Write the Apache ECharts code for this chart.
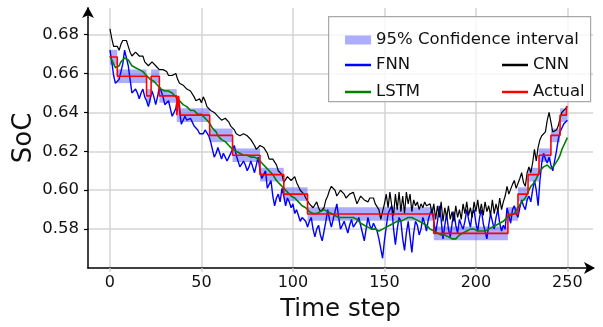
<!DOCTYPE html>
<html>
<head>
<meta charset="utf-8">
<script src="https://cdn.jsdelivr.net/npm/echarts@6/dist/echarts.min.js"></script>
<style>
html,body{margin:0;padding:0;background:#fff;}
#chart{width:603px;height:327px;}
</style>
</head>
<body>
<div id="chart"></div>
<script>
// time step axis 0..250
var cnnValues = [
0.683,0.678,0.674,0.673,0.674,0.672,0.675,0.677,0.678,0.677,
0.674,0.671,0.669,0.670,0.671,0.670,0.669,0.668,0.669,0.666,
0.665,0.664,0.665,0.666,0.666,0.664,0.663,0.662,0.663,0.662,
0.662,0.661,0.659,0.658,0.659,0.660,0.660,0.657,0.655,0.656,
0.654,0.653,0.652,0.652,0.651,0.650,0.648,0.646,0.646,0.647,
0.645,0.648,0.646,0.643,0.642,0.641,0.642,0.640,0.640,0.638,
0.638,0.636,0.635,0.637,0.637,0.635,0.633,0.632,0.631,0.629,
0.628,0.628,0.628,0.629,0.630,0.628,0.627,0.626,0.625,0.623,
0.621,0.621,0.623,0.624,0.622,0.622,0.619,0.616,0.615,0.616,
0.615,0.613,0.610,0.611,0.608,0.604,0.605,0.607,0.607,0.605,
0.606,0.607,0.604,0.602,0.600,0.599,0.598,0.596,0.595,0.593,
0.592,0.591,0.592,0.594,0.591,0.589,0.588,0.591,0.595,0.597,
0.600,0.602,0.603,0.600,0.597,0.598,0.600,0.600,0.598,0.596,
0.596,0.598,0.599,0.599,0.596,0.593,0.595,0.597,0.597,0.595,
0.594,0.594,0.596,0.597,0.596,0.593,0.592,0.590,0.585,0.589,
0.593,0.598,0.591,0.599,0.592,0.587,0.598,0.590,0.599,0.589,
0.597,0.588,0.599,0.593,0.598,0.589,0.595,0.592,0.594,0.590,
0.593,0.591,0.594,0.592,0.591,0.593,0.588,0.593,0.585,0.592,
0.586,0.594,0.584,0.591,0.586,0.592,0.585,0.589,0.584,0.592,
0.586,0.590,0.585,0.593,0.588,0.594,0.587,0.591,0.586,0.594,
0.589,0.595,0.588,0.593,0.587,0.594,0.589,0.592,0.587,0.595,
0.588,0.593,0.589,0.596,0.590,0.594,0.597,0.602,0.598,0.597,
0.603,0.605,0.601,0.600,0.606,0.609,0.604,0.602,0.609,0.612,
0.609,0.614,0.621,0.615,0.622,0.626,0.628,0.629,0.630,0.636,
0.640,0.635,0.630,0.629,0.631,0.633,0.637,0.640,0.641,0.642,0.643
];
var fnnValues = [
0.672,0.666,0.659,0.655,0.654,0.657,0.661,0.665,0.672,0.673,
0.664,0.657,0.650,0.649,0.652,0.650,0.647,0.650,0.652,0.648,
0.646,0.643,0.642,0.651,0.648,0.644,0.648,0.653,0.651,0.648,
0.644,0.643,0.646,0.642,0.638,0.640,0.642,0.648,0.641,0.634,
0.636,0.638,0.636,0.635,0.637,0.635,0.633,0.634,0.631,0.629,
0.628,0.629,0.631,0.630,0.628,0.625,0.621,0.617,0.619,0.622,
0.619,0.616,0.619,0.617,0.615,0.617,0.619,0.621,0.623,0.618,
0.615,0.612,0.611,0.615,0.613,0.610,0.612,0.615,0.612,0.609,
0.613,0.617,0.610,0.606,0.608,0.610,0.601,0.603,0.605,0.597,
0.592,0.596,0.598,0.594,0.601,0.597,0.592,0.596,0.594,0.591,
0.593,0.588,0.590,0.587,0.584,0.586,0.587,0.584,0.581,0.584,
0.586,0.580,0.576,0.580,0.582,0.577,0.574,0.579,0.584,0.590,
0.585,0.581,0.585,0.589,0.593,0.586,0.580,0.582,0.584,0.581,
0.578,0.582,0.585,0.581,0.580,0.584,0.586,0.582,0.578,0.574,
0.580,0.586,0.582,0.580,0.583,0.584,0.579,0.575,0.570,0.565,
0.574,0.581,0.588,0.590,0.592,0.580,0.572,0.580,0.586,0.584,
0.575,0.569,0.578,0.584,0.576,0.568,0.578,0.584,0.582,0.577,
0.580,0.586,0.583,0.579,0.585,0.588,0.590,0.584,0.578,0.584,
0.592,0.585,0.575,0.582,0.588,0.580,0.576,0.583,0.589,0.582,
0.578,0.585,0.582,0.580,0.584,0.590,0.585,0.581,0.588,0.590,
0.583,0.579,0.586,0.590,0.583,0.579,0.575,0.582,0.588,0.584,
0.580,0.586,0.590,0.583,0.579,0.582,0.580,0.591,0.587,0.583,
0.590,0.592,0.588,0.586,0.591,0.595,0.592,0.590,0.595,0.597,
0.594,0.600,0.605,0.600,0.592,0.605,0.614,0.619,0.616,0.614,
0.617,0.613,0.610,0.615,0.620,0.626,0.630,0.632,0.634,0.635,0.636
];
var lstmValues = [
0.669,0.668,0.665,0.663,0.663,0.664,0.666,0.667,0.668,0.668,
0.667,0.666,0.664,0.6635,0.663,0.662,0.662,0.661,0.661,0.660,
0.659,0.658,0.657,0.656,0.656,0.655,0.654,0.653,0.652,0.652,
0.651,0.651,0.651,0.650,0.650,0.649,0.648,0.647,0.646,0.646,
0.644,0.643,0.643,0.642,0.641,0.641,0.641,0.640,0.639,0.639,
0.639,0.638,0.637,0.636,0.635,0.634,0.632,0.631,0.630,0.628,
0.628,0.626,0.625,0.625,0.624,0.623,0.622,0.621,0.621,0.620,
0.619,0.619,0.618,0.618,0.618,0.618,0.618,0.617,0.617,0.617,
0.616,0.616,0.615,0.614,0.613,0.612,0.611,0.610,0.609,0.608,
0.607,0.605,0.604,0.603,0.602,0.601,0.600,0.599,0.598,0.597,
0.596,0.596,0.595,0.594,0.593,0.592,0.592,0.591,0.590,0.589,
0.589,0.588,0.588,0.588,0.589,0.589,0.590,0.590,0.589,0.589,
0.589,0.588,0.588,0.587,0.587,0.586,0.586,0.586,0.585,0.586,
0.586,0.586,0.586,0.586,0.586,0.585,0.584,0.583,0.582,0.582,
0.581,0.581,0.581,0.580,0.580,0.580,0.579,0.579,0.579,0.580,
0.580,0.581,0.582,0.582,0.583,0.583,0.583,0.584,0.584,0.584,
0.585,0.585,0.585,0.586,0.586,0.586,0.585,0.585,0.585,0.584,
0.584,0.583,0.583,0.582,0.581,0.580,0.579,0.579,0.578,0.578,
0.578,0.577,0.577,0.577,0.576,0.576,0.576,0.575,0.575,0.575,
0.576,0.577,0.577,0.578,0.579,0.579,0.580,0.580,0.580,0.580,
0.579,0.579,0.579,0.579,0.579,0.579,0.580,0.580,0.581,0.581,
0.582,0.582,0.583,0.583,0.584,0.584,0.585,0.586,0.586,0.587,
0.587,0.588,0.589,0.591,0.592,0.594,0.595,0.596,0.598,0.600,
0.602,0.603,0.604,0.606,0.608,0.610,0.611,0.612,0.613,0.613,
0.612,0.611,0.612,0.613,0.613,0.616,0.618,0.621,0.623,0.625,0.627
];
// actual SoC, piecewise constant (value holds until next x)
var actualX = [0,4,20,22.5,27,36.5,37.5,38.5,54.5,67,82,95,108,177,217.5,223,228.5,234.5,241,246,249.5,250];
var actualY = [0.6685,0.6586,0.6485,0.6586,0.6485,0.6386,0.6485,0.6386,0.6282,0.618,0.608,0.598,0.5878,0.5778,0.5878,0.598,0.608,0.618,0.6282,0.6386,0.643,0.643];
// 95% confidence interval blocks
var bandStart = [0,4,20,22.5,27,36.5,54.5,67,82,95,108,177,217.5,223,228.5,234.5,241,246];
var bandEnd   = [4,20,22.5,27,36.5,54.5,67,82,95,108,177,217.5,223,228.5,234.5,241,246,250];
var bandLow   = [0.6645,0.6551,0.6450,0.6551,0.6450,0.6351,0.6247,0.6145,0.6045,0.5945,0.5843,0.5743,0.5843,0.5945,0.6045,0.6145,0.6247,0.6351];
var bandHigh  = [0.6722,0.6621,0.6520,0.6621,0.6520,0.6421,0.6317,0.6215,0.6115,0.6015,0.5913,0.5813,0.5913,0.6015,0.6115,0.6215,0.6317,0.6421];

var FONT = 'DejaVu Sans';
var legendText = {fontSize: 16.5, color: '#111', fontFamily: FONT};

function toPairs(vals){
	var out = [];
	for (var i = 0; i < vals.length; i++) out.push([i, vals[i]]);
	return out;
}
function actualData(){
	var out = [];
	for (var i = 0; i < actualX.length; i++) out.push([actualX[i], actualY[i]]);
	return out;
}
function bandData(){
	var out = [];
	for (var i = 0; i < bandStart.length; i++) out.push([bandStart[i], bandEnd[i], bandLow[i], bandHigh[i]]);
	return out;
}
function lineItem(name){
	return {name: name, icon: 'rect'};
}

var chart = echarts.init(document.getElementById('chart'));

var option = {
	animation: false,
	backgroundColor: '#fff',
	textStyle: {fontFamily: FONT},
	grid: {left: 88, right: 10, top: 8, bottom: 59, containLabel: false, outerBoundsMode: 'none'},
	xAxis: {
		type: 'value', min: -12, max: 264,
		name: 'Time step', nameLocation: 'middle', nameGap: 29, nameMoveOverlap: false,
		nameTextStyle: {fontSize: 24.5, color: '#111', fontFamily: FONT},
		axisLine: {show: true, onZero: false, lineStyle: {color: '#000', width: 1.5}, symbol: ['none', 'arrow'], symbolSize: [9, 11], symbolOffset: [0, 2]},
		axisTick: {show: true, length: 4, lineStyle: {color: '#d4d4d4', width: 1.5}},
		axisLabel: {fontSize: 16, color: '#111', margin: 7, fontFamily: FONT,
			formatter: function(v){ return v % 50 === 0 && v >= 0 && v <= 250 ? String(v) : ''; },
			showMinLabel: false, showMaxLabel: false},
		splitLine: {show: true, showMinLine: false, showMaxLine: false, lineStyle: {color: '#d4d4d4', width: 1.5}}
	},
	yAxis: {
		type: 'value', min: 0.56, max: 0.6937, interval: 0.02,
		name: 'SoC', nameLocation: 'middle', nameGap: 51, nameMoveOverlap: false,
		nameTextStyle: {fontSize: 26, color: '#111', fontFamily: FONT},
		axisLine: {show: true, onZero: false, lineStyle: {color: '#000', width: 1.5}, symbol: ['none', 'arrow'], symbolSize: [9, 11], symbolOffset: [0, 1]},
		axisTick: {show: true, inside: false, length: 4, lineStyle: {color: '#000', width: 1.2}},
		axisLabel: {fontSize: 16.5, color: '#111', margin: 9, fontFamily: FONT,
			formatter: function(v){ return (v > 0.57 && v < 0.69) ? v.toFixed(2) : ''; },
			showMinLabel: false, showMaxLabel: false},
		splitLine: {show: true, showMinLine: false, showMaxLine: false, lineStyle: {color: '#d4d4d4', width: 1.5}}
	},
	legend: [
		{data: [{name: '95% Confidence interval', icon: 'rect'}], left: 340, top: 26.5, itemWidth: 26, itemHeight: 9,
			textStyle: legendText, itemGap: 6, z: 10, selectedMode: false},
		{data: [lineItem('FNN'), lineItem('LSTM')], orient: 'vertical', left: 340, top: 51.5, itemWidth: 26, itemHeight: 2.5, itemGap: 10,
			textStyle: legendText, z: 10, selectedMode: false},
		{data: [lineItem('CNN'), lineItem('Actual')], orient: 'vertical', left: 497, top: 51.5, itemWidth: 26, itemHeight: 2.5, itemGap: 10,
			textStyle: legendText, z: 10, selectedMode: false}
	],
	graphic: [
		{type: 'rect', left: 328, top: 16, z: 5,
			shape: {width: 262, height: 85},
			style: {fill: 'rgba(255,255,255,0.8)', stroke: '#a8a8a8', lineWidth: 1.2}}
	],
	series: [
		{
			name: '95% Confidence interval', type: 'custom',
			itemStyle: {color: 'rgba(60,60,255,0.42)'},
			encode: {x: [0, 1], y: [2, 3]},
			data: bandData(),
			renderItem: function(params, api){
				var p0 = api.coord([api.value(0), api.value(3)]);
				var p1 = api.coord([api.value(1), api.value(2)]);
				return {type: 'rect', shape: {x: p0[0], y: p0[1], width: p1[0] - p0[0], height: p1[1] - p0[1]},
					style: api.style()};
			}
		},
		{name: 'FNN', type: 'line', data: toPairs(fnnValues), symbol: 'none', color: '#0000ff',
			lineStyle: {color: '#0000ff', width: 1.4}},
		{name: 'CNN', type: 'line', data: toPairs(cnnValues), symbol: 'none', color: '#000000',
			lineStyle: {color: '#000000', width: 1.2}},
		{name: 'LSTM', type: 'line', data: toPairs(lstmValues), symbol: 'none', color: '#008000',
			lineStyle: {color: '#008000', width: 1.6}},
		{name: 'Actual', type: 'line', data: actualData(), step: 'end', symbol: 'none', color: '#ff0000',
			lineStyle: {color: '#ff0000', width: 1.6}}
	]
};
chart.setOption(option);
</script>
</body>
</html>
